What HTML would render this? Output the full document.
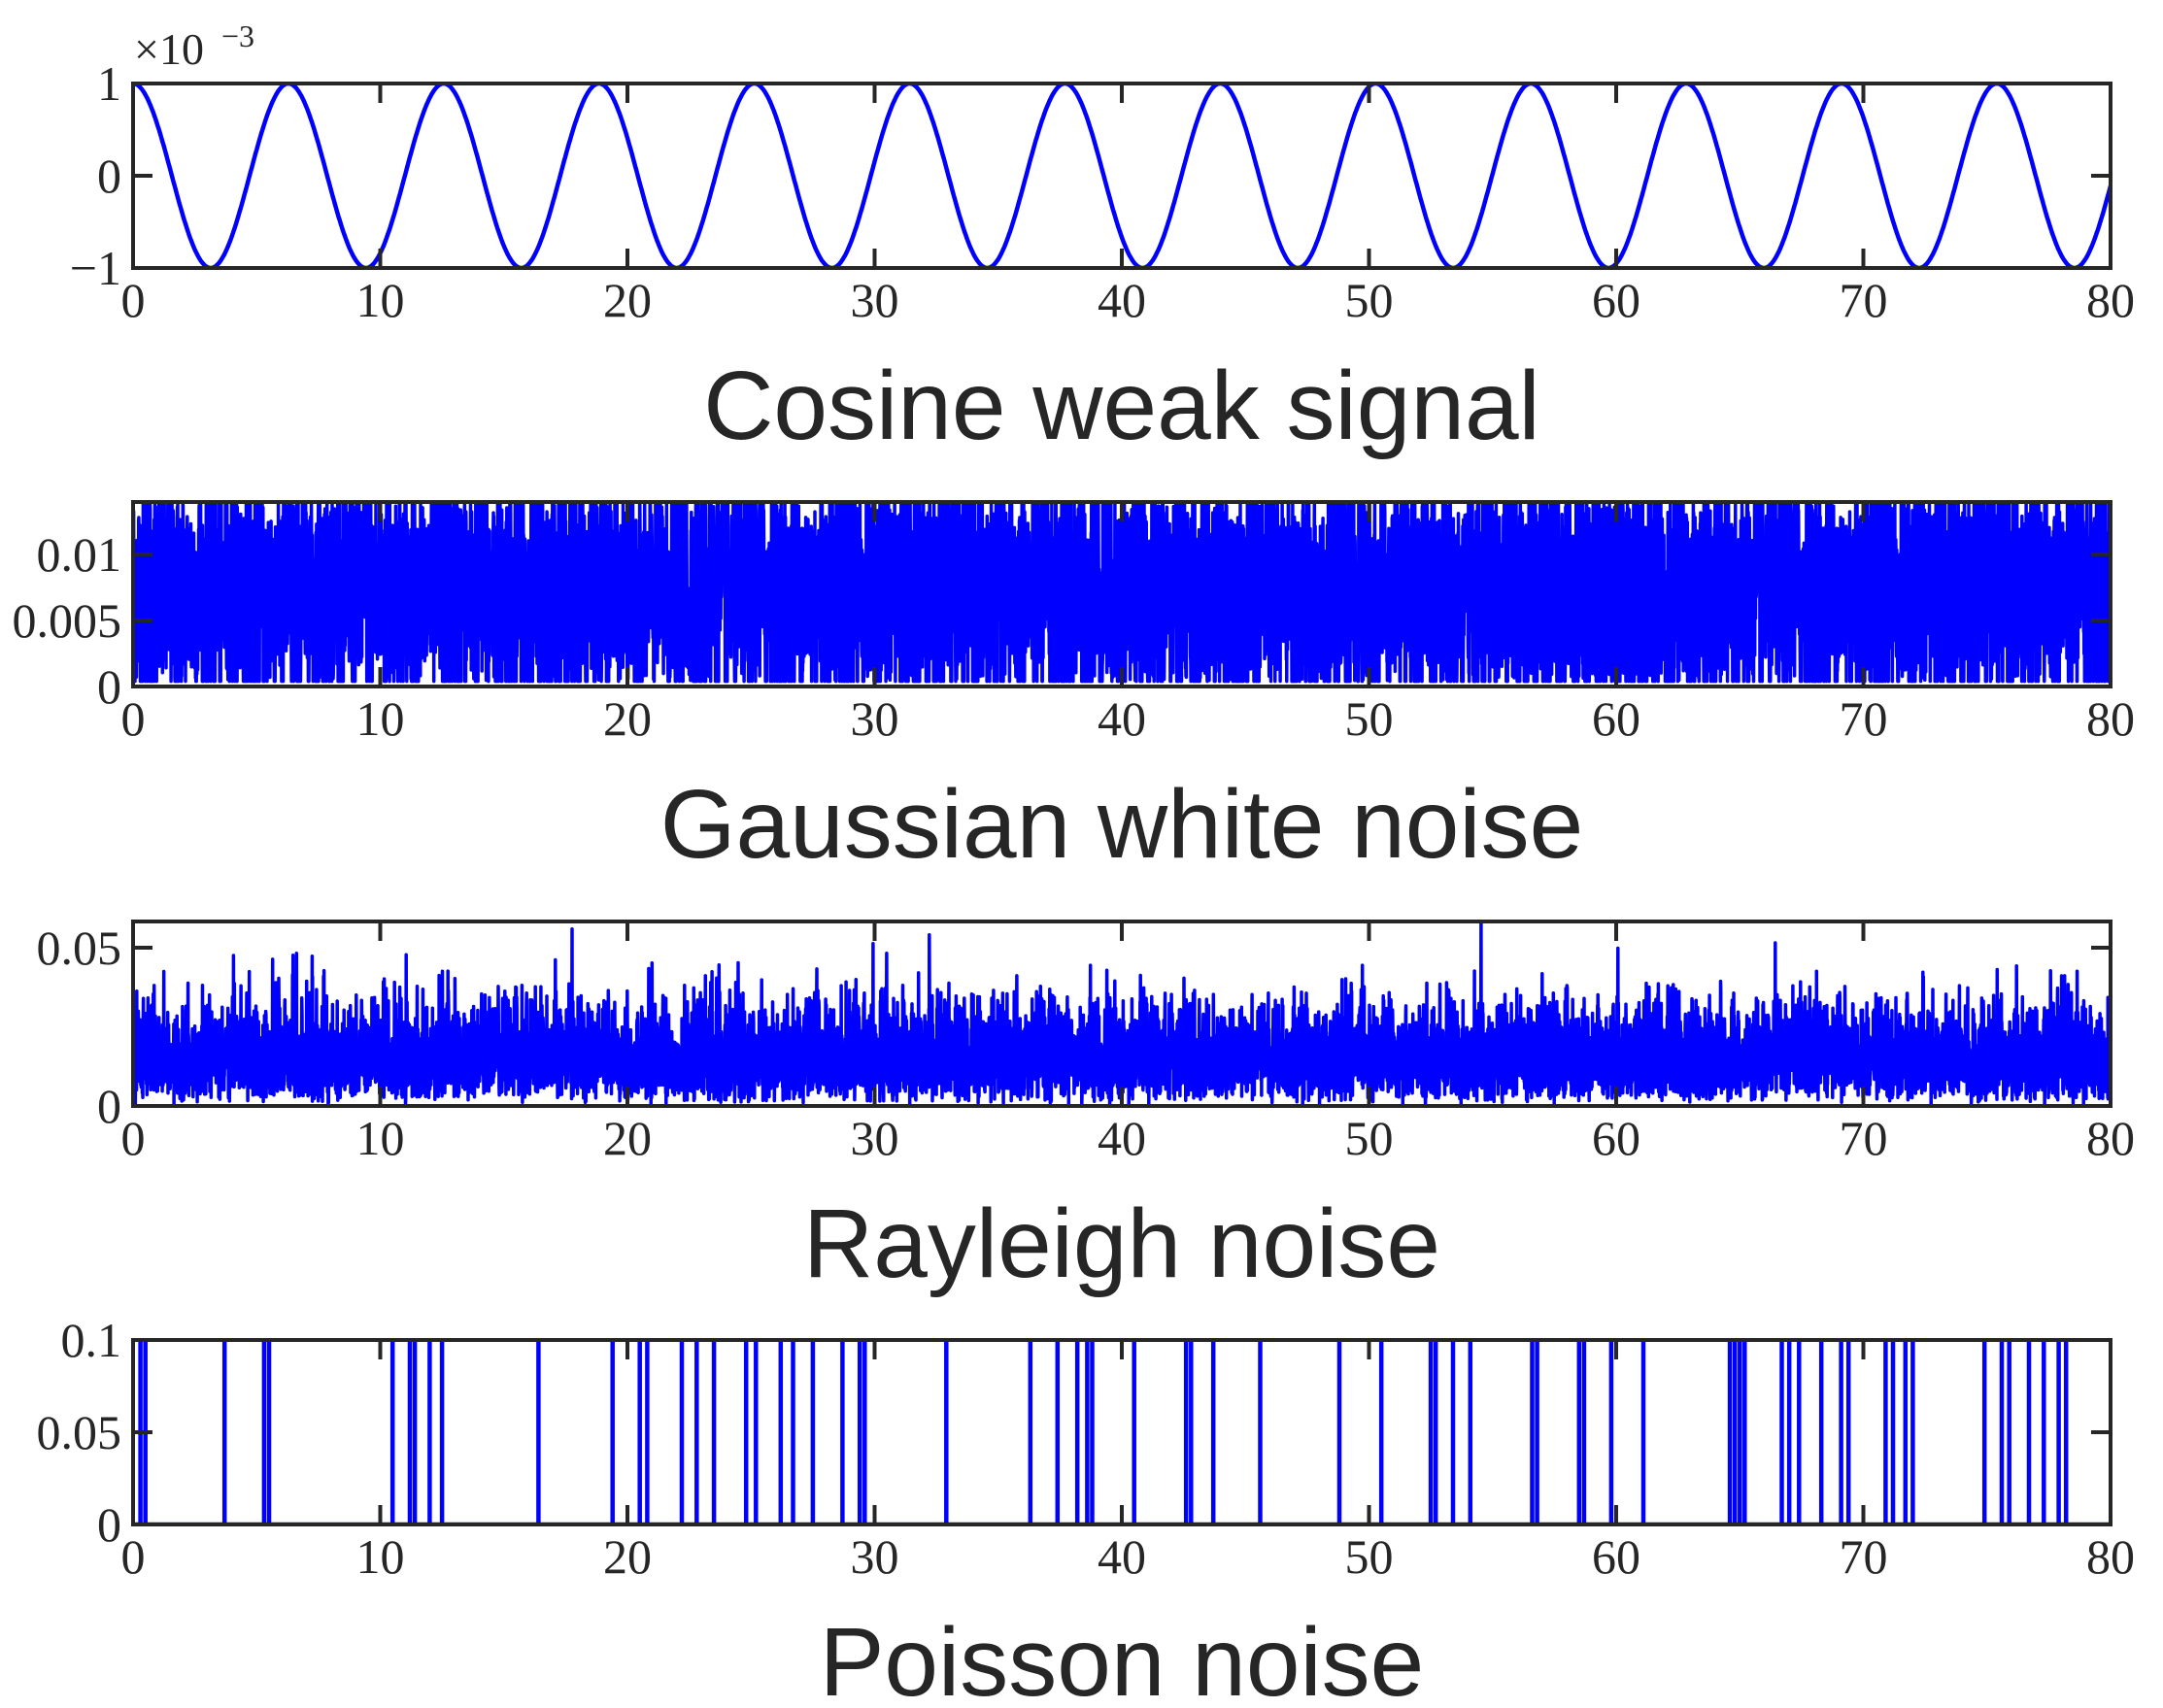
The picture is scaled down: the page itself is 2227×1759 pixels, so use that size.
<!DOCTYPE html>
<html><head><meta charset="utf-8"><style>
html,body{margin:0;padding:0;background:#fff;}
svg{display:block;}
.t{font-family:"Liberation Serif",serif;font-size:50px;fill:#262626;}
.ti{font-family:"Liberation Sans",sans-serif;font-size:100px;fill:#262626;}
</style></head><body>
<svg id="s" width="2227" height="1759" viewBox="0 0 2227 1759" xmlns="http://www.w3.org/2000/svg">
<text class="t" x="138" y="66" style="font-size:46px">×10</text>
<text class="t" x="228" y="48" style="font-size:32px">−3</text>
<text class="ti" x="1155" y="452" text-anchor="middle">Cosine weak signal</text>
<text class="ti" x="1155" y="883" text-anchor="middle">Gaussian white noise</text>
<text class="ti" x="1155" y="1315" text-anchor="middle">Rayleigh noise</text>
<text class="ti" x="1155" y="1746" text-anchor="middle">Poisson noise</text>
</svg>
<script>
(function(){
var NS="http://www.w3.org/2000/svg",s=document.getElementById("s");
var L=137,R=2173,W=R-L,H=190,tops=[86,517,949,1380];
function el(n,a,txt){var e=document.createElementNS(NS,n);for(var k in a)e.setAttribute(k,a[k]);if(txt!=null)e.textContent=txt;s.appendChild(e);return e;}
var seed=12345;function rnd(){seed=(seed*1103515245+12345)%2147483648;return seed/2147483648;}
function gauss(){var u=rnd()||1e-9,v=rnd();return Math.sqrt(-2*Math.log(u))*Math.cos(2*Math.PI*v);}
var yr=[[-1e-3,1e-3],[0,0.01396],[0,0.0583],[0,0.1]];
var yt=[[[-1e-3,"−1"],[0,"0"],[1e-3,"1"]],[[0,"0"],[0.005,"0.005"],[0.01,"0.01"]],[[0,"0"],[0.05,"0.05"]],[[0,"0"],[0.05,"0.05"],[0.1,"0.1"]]];
function X(t){return L+t/80*W;}
for(var p=0;p<4;p++){
 var T=tops[p],B=T+H,y0=yr[p][0],y1=yr[p][1];
 function Y(v){return B-(v-y0)/(y1-y0)*H;}
 var cid="c"+p;
 var cp=el("clipPath",{id:cid});var r=document.createElementNS(NS,"rect");r.setAttribute("x",L);r.setAttribute("y",T-2);r.setAttribute("width",W);r.setAttribute("height",H+4);cp.appendChild(r);
 var d="",sw=4;
 if(p==0){for(var i=0;i<=2000;i++){var t=i/2000*80;d+=(i?"L":"M")+X(t).toFixed(1)+" "+Y(1e-3*Math.cos(t)).toFixed(1);}sw=4.5;}
 else if(p==1){for(var i=0;i<=10000;i++){var t=i/10000*80;var v=0.007+0.0045*gauss();v=Math.max(0.0004,Math.min(0.0138,v));d+=(i?"L":"M")+X(t).toFixed(1)+" "+Y(v).toFixed(1);}sw=3.5;}
 else if(p==2){for(var i=0;i<=9000;i++){var t=i/9000*80;var u=rnd()||1e-9;var v=0.0125*Math.sqrt(-2*Math.log(u));d+=(i?"L":"M")+X(t).toFixed(1)+" "+Y(v).toFixed(1);}sw=3.5;}
 else{var sp=[0.3,0.5,3.7,5.3,5.5,10.5,11.2,11.4,12,12.5,16.4,19.4,20.5,20.8,22.2,22.8,23.5,24.8,25.2,26.2,26.7,27.5,28.7,29.4,29.6,32.9,36.3,37.4,38.2,38.6,38.8,40.5,42.6,42.8,43.7,45.6,48.8,50.5,52.5,52.7,53.4,54.1,56.6,56.8,58.5,58.7,59.8,61.1,64.6,64.8,65.0,65.2,66.7,67.0,67.4,68.3,69.1,69.4,70.9,71.2,71.7,72.0,74.9,75.6,75.9,76.7,77.3,77.9,78.2];
  d="M"+L+" "+B+"L"+R+" "+B;sp.forEach(function(t){d+="M"+X(t).toFixed(1)+" "+B+"L"+X(t).toFixed(1)+" "+T;});sw=4.5;}
 el("path",{d:d,fill:"none",stroke:"#0000ff","stroke-width":sw,"stroke-linejoin":"round","clip-path":"url(#"+cid+")"});
 el("rect",{x:L,y:T,width:W,height:H,fill:"none",stroke:"#262626","stroke-width":4});
 var tk="";
 for(var k=0;k<=8;k++){var x=X(k*10);tk+="M"+x+" "+B+"v-20M"+x+" "+T+"v20";
  el("text",{"class":"t",x:x,y:B+50,"text-anchor":"middle"},String(k*10));}
 yt[p].forEach(function(q){var y=Y(q[0]);tk+="M"+L+" "+y+"h20M"+R+" "+y+"h-20";
  el("text",{"class":"t",x:L-12,y:y+17,"text-anchor":"end"},q[1]);});
 el("path",{d:tk,stroke:"#262626","stroke-width":4,fill:"none"});
}
})();
</script>
</body></html>
